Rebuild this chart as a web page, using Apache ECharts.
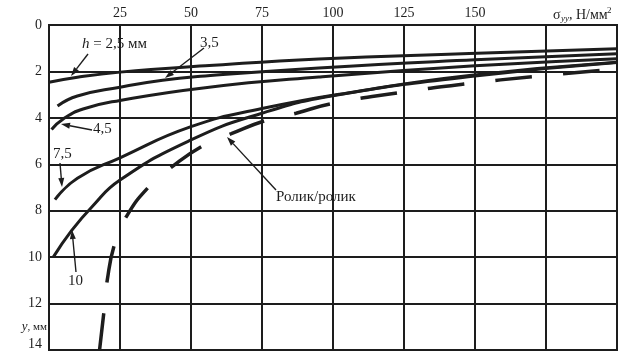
<!DOCTYPE html>
<html>
<head>
<meta charset="utf-8">
<script src="https://cdn.jsdelivr.net/npm/echarts@6/dist/echarts.min.js"></script>
<style>
html,body{margin:0;padding:0;background:#fff;}
#chart{width:622px;height:351px;}
</style>
</head>
<body>
<div id="chart"></div>
<script>
// Residual stress σyy (Н/мм²) against depth y (мм), one curve per h
const xTickLabels = [25, 50, 75, 100, 125, 150];
const yTickLabels = [0, 2, 4, 6, 8, 10, 12];

const curveH25 = [[0,2.47],[10,2.25],[25,2.03],[55,1.76],[95,1.46],[148,1.23],[200,1.02]];
const curveH35 = [[3,3.49],[10,3.06],[25,2.68],[40,2.38],[55,2.2],[95,1.85],[150,1.5],[200,1.24]];
const curveH45 = [[0.9,4.5],[5,4.05],[12,3.62],[25,3.25],[55,2.7],[95,2.24],[150,1.76],[200,1.45]];
const curveH75 = [[2.1,7.52],[10,6.6],[25,5.72],[50,4.38],[75,3.6],[109,2.85],[148,2.17],[200,1.6]];
const curveH10 = [[1.5,10],[8,8.85],[15,7.85],[25,6.68],[50,4.95],[75,3.8],[100,3.05],[150,2.2],[200,1.62]];
const curveRoller = [[17.8,14],[19.3,12.4],[20.5,11.0],[23.2,9.4],[27.3,8.24],[35.3,6.95],[43.5,6.09],[54.5,5.18],[64.2,4.68],[76.4,4.11],[87,3.8],[99.4,3.39],[123,2.92],[147,2.53],[171,2.22],[195,1.95],[200,1.9]];

const FONT = '"Liberation Serif", "DejaVu Serif", serif';
const INK = '#1d1d1d';

function solidCurve(name, data) {
  return {
    type: 'line', name: name, data: data,
    smooth: 0.5, symbol: 'none',
    lineStyle: { color: INK, width: 3 }, z: 3, silent: true
  };
}

// arrow from (x1,y1) to tip (x2,y2)
function arrow(x1, y1, x2, y2) {
  const a = Math.atan2(y2 - y1, x2 - x1);
  const L = 9, W = 3;
  const bx = x2 - L * Math.cos(a), by = y2 - L * Math.sin(a);
  const nx = -Math.sin(a) * W, ny = Math.cos(a) * W;
  return [
    { type: 'line', shape: { x1: x1, y1: y1, x2: bx, y2: by }, style: { stroke: INK, lineWidth: 1.4 }, z: 10 },
    { type: 'polygon', shape: { points: [[x2, y2], [bx + nx, by + ny], [bx - nx, by - ny]] }, style: { fill: INK }, z: 10 }
  ];
}

function label(text, x, y, opts) {
  return {
    type: 'text', x: x, y: y, z: 11,
    style: Object.assign({ text: text, font: '15px ' + FONT, fill: INK, textAlign: 'left', textVerticalAlign: 'middle' }, opts || {})
  };
}

const chart = echarts.init(document.getElementById('chart'), null, { renderer: 'canvas' });

const graphics = [].concat(
  [
    { type: 'text', x: 82, y: 44, z: 11, style: { text: '{i|h} = 2,5 мм', fill: INK, textVerticalAlign: 'middle',
      rich: { i: { fontFamily: FONT, fontSize: 15, fontStyle: 'italic', fill: INK } }, font: '15px ' + FONT } },
    label('3,5', 200, 43),
    label('4,5', 93, 129),
    label('7,5', 53, 154),
    label('10', 68, 281),
    label('Ролик/ролик', 276, 197),
    label('14', 42, 344, { textAlign: 'right', font: '14px ' + FONT }),
    { type: 'text', x: 47, y: 327, z: 11, style: { text: '{i|y}, мм', fill: INK, textAlign: 'right', textVerticalAlign: 'middle',
      rich: { i: { fontFamily: FONT, fontSize: 13, fontStyle: 'italic', fill: INK } }, font: '11px ' + FONT } },
    label('σ', 553, 15, { font: '14px ' + FONT }),
    label('yy', 561, 19, { font: 'italic 9px ' + FONT }),
    label(', Н/мм', 569, 15, { font: '14px ' + FONT }),
    label('2', 607, 11, { font: '9px ' + FONT })
  ],
  arrow(88, 54, 71, 76),
  arrow(204, 48, 165, 78),
  arrow(92, 130, 61, 124),
  arrow(60, 163, 62, 187),
  arrow(76, 272, 72, 230),
  arrow(276, 190, 227, 137)
);

chart.setOption({
  animation: false,
  backgroundColor: '#fff',
  grid: { left: 49, right: 5, top: 25, bottom: 1, show: true, borderColor: INK, borderWidth: 2 },
  xAxis: {
    type: 'value', position: 'top', min: 0, max: 200, interval: 25,
    axisLine: { show: false }, axisTick: { show: false },
    splitLine: { show: true, lineStyle: { color: INK, width: 2 } },
    axisLabel: {
      margin: 5, fontFamily: FONT, fontSize: 14, color: INK,
      formatter: function (v) { return xTickLabels.indexOf(v) >= 0 ? String(v) : ''; }
    }
  },
  yAxis: {
    type: 'value', inverse: true, min: 0, max: 14, interval: 2,
    axisLine: { show: false }, axisTick: { show: false },
    splitLine: { show: true, lineStyle: { color: INK, width: 2 } },
    axisLabel: {
      margin: 7, fontFamily: FONT, fontSize: 14, color: INK,
      formatter: function (v) { return yTickLabels.indexOf(v) >= 0 ? String(v) : ''; }
    }
  },
  series: [
    solidCurve('h = 2,5', curveH25),
    solidCurve('h = 3,5', curveH35),
    solidCurve('h = 4,5', curveH45),
    solidCurve('h = 7,5', curveH75),
    solidCurve('h = 10', curveH10),
    {
      type: 'line', name: 'Ролик/ролик', data: curveRoller,
      smooth: 0.5, symbol: 'none', silent: true, z: 3,
      lineStyle: { color: INK, width: 3.5, type: [37, 31], dashOffset: 0 }
    }
  ],
  graphic: graphics
});
</script>
</body>
</html>
